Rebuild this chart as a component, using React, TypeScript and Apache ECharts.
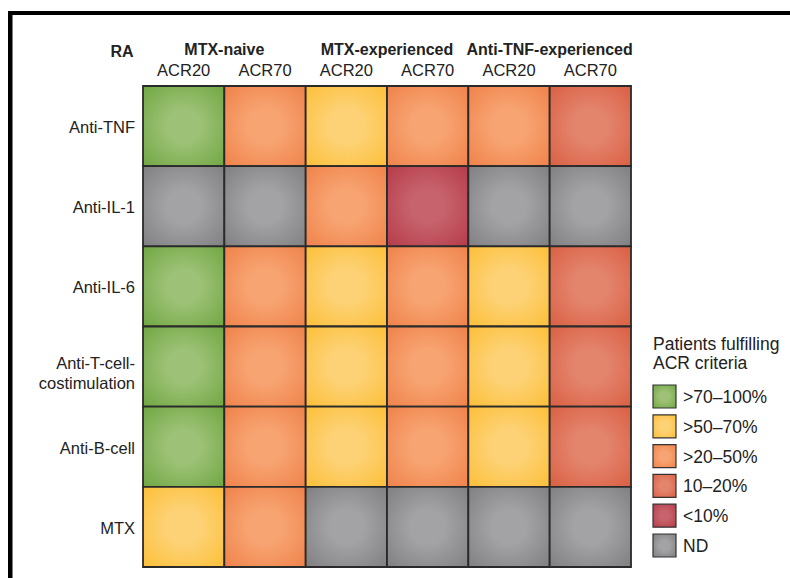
import React, { useEffect, useRef } from "react";
import * as echarts from "echarts";

const columns = ["ACR20", "ACR70", "ACR20", "ACR70", "ACR20", "ACR70"];
const groups = ["MTX-naive", "MTX-experienced", "Anti-TNF-experienced"];
const rows = ["Anti-TNF", "Anti-IL-1", "Anti-IL-6", "Anti-T-cell-\ncostimulation", "Anti-B-cell", "MTX"];
const legendTitle = "Patients fulfilling\nACR criteria";
const categories = [">70–100%", ">50–70%", ">20–50%", "10–20%", "<10%", "ND"];
// category index per cell: 0 green, 1 yellow, 2 orange, 3 red, 4 dark red, 5 ND
const cellCategory = [
  [0, 2, 1, 2, 2, 3],
  [5, 5, 2, 4, 5, 5],
  [0, 2, 1, 2, 1, 3],
  [0, 2, 1, 2, 1, 3],
  [0, 2, 1, 2, 1, 3],
  [1, 2, 5, 5, 5, 5],
];
const edgeColors = ["#70a743", "#fcbf38", "#f0824a", "#da6043", "#b63b4a", "#808082"];
const centerColors = ["#9dc176", "#fdd276", "#f7a472", "#e3846d", "#c6636c", "#a3a3a5"];

const FONT = "'Liberation Sans', Arial, sans-serif";
const TEXT = "#222";

function grad(i: number) {
  return new echarts.graphic.RadialGradient(0.5, 0.5, 0.7, [
    { offset: 0, color: centerColors[i] },
    { offset: 0.3, color: centerColors[i] },
    { offset: 1, color: edgeColors[i] },
  ]);
}

export default function App() {
  const ref = useRef<HTMLDivElement>(null);
  useEffect(() => {
    if (!ref.current) return;
    const chart = echarts.init(ref.current, null, { renderer: "svg" });
    const data: any[] = [];
    cellCategory.forEach((row, r) =>
      row.forEach((c, ci) => {
        data.push([ci, r, c]);
      })
    );
    const legendItems: any[] = [];
    categories.forEach((name, i) => {
      legendItems.push({
        type: "rect",
        shape: { x: 653, y: 385 + i * 29.8, width: 23, height: 23 },
        style: { fill: grad(i) as any, stroke: "#333", lineWidth: 1.2 },
      });
      legendItems.push({
        type: "text",
        x: 683,
        y: 397 + i * 29.8,
        style: {
          text: name,
          font: `17.5px ${FONT}`,
          fill: TEXT,
          verticalAlign: "middle",
        },
      });
    });
    chart.setOption({
      animation: false,
      backgroundColor: "#fff",
      grid: { left: 143, right: 159, top: 86, bottom: 11 },
      xAxis: [
        {
          type: "category",
          data: columns.map((c, i) => c + "_" + i),
          position: "top",
          axisLine: { show: false },
          axisTick: { show: false },
          splitLine: { show: false },
          axisLabel: {
            interval: 0,
            margin: 8,
            fontSize: 16.5,
            fontFamily: FONT,
            color: TEXT,
            formatter: (v: string) => v.split("_")[0],
          },
        },
        {
          type: "category",
          data: groups,
          position: "top",
          offset: 21,
          axisLine: { show: false },
          axisTick: { show: false },
          axisLabel: {
            interval: 0,
            hideOverlap: false,
            margin: 8,
            fontSize: 16,
            fontWeight: "bold",
            fontFamily: FONT,
            color: TEXT,
          },
        },
      ],
      yAxis: {
        type: "category",
        data: rows,
        inverse: true,
        axisLine: { show: false },
        axisTick: { show: false },
        axisLabel: {
          interval: 0,
          margin: 8,
          fontSize: 16.5,
          lineHeight: 20,
          fontFamily: FONT,
          color: TEXT,
          align: "right",
          formatter: (v: string) => (v.indexOf("\n") >= 0 ? "{m|" + v.split("\n").join("}\n{m|") + "}" : "{s|" + v + "}"),
          rich: {
            m: { fontSize: 16.5, lineHeight: 20, fontFamily: FONT, color: TEXT, padding: [12, 0, 0, 0] },
            s: { fontSize: 16.5, lineHeight: 20, fontFamily: FONT, color: TEXT, padding: [2, 0, 0, 0] },
          },
        },
      },
      series: [
        {
          type: "custom",
          data,
          encode: { x: 0, y: 1 },
          renderItem: (params: any, api: any) => {
            const c = api.coord([api.value(0), api.value(1)]);
            const s = api.size([1, 1]);
            const cat = api.value(2);
            return {
              type: "rect",
              shape: { x: c[0] - s[0] / 2, y: c[1] - s[1] / 2, width: s[0], height: s[1] },
              style: { fill: grad(cat), stroke: "#2a2a2a", lineWidth: 1.8 },
            };
          },
        },
      ],
      graphic: [
        {
          type: "rect",
          shape: { x: 8, y: 11, width: 782, height: 4 },
          style: { fill: "#000" },
        },
        {
          type: "rect",
          shape: { x: 8, y: 11, width: 4.5, height: 567 },
          style: { fill: "#000" },
        },
        {
          type: "text",
          x: 122,
          y: 51,
          style: {
            text: "RA",
            font: `bold 16px ${FONT}`,
            fill: TEXT,
            align: "center",
            verticalAlign: "middle",
          },
        },
        {
          type: "text",
          x: 653,
          y: 334,
          style: {
            text: legendTitle,
            font: `17.5px ${FONT}`,
            lineHeight: 19,
            fill: TEXT,
            verticalAlign: "top",
          },
        },
        ...legendItems,
      ],
    });
    return () => chart.dispose();
  }, []);
  return (
    <div
      ref={ref}
      style={{ position: "fixed", left: 0, top: 0, width: 790, height: 578 }}
    />
  );
}
